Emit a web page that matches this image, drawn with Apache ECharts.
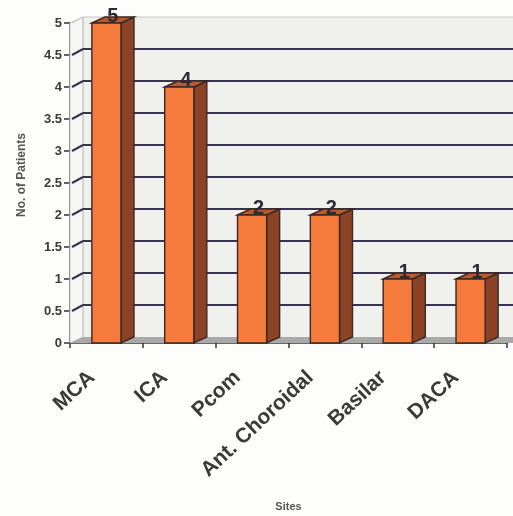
<!DOCTYPE html>
<html>
<head>
<meta charset="utf-8">
<script src="https://cdn.jsdelivr.net/npm/echarts@6/dist/echarts.min.js"></script>
<style>
  html, body { margin: 0; padding: 0; background: #fdfdfb; }
  #chart { width: 513px; height: 516px; }
</style>
</head>
<body>
<div id="chart"></div>
<script>
// Aneurysm sites and patient counts
const sites = ['MCA', 'ICA', 'Pcom', 'Ant. Choroidal', 'Basilar', 'DACA'];
const patients = [5, 4, 2, 2, 1, 1];
const yTicks = [0, 0.5, 1, 1.5, 2, 2.5, 3, 3.5, 4, 4.5, 5];

// pseudo-3D depth offset of the walls and bar bodies
const DX = 13, DY = -6;
const FONT = 'Arial, "Liberation Sans", sans-serif';

const chart = echarts.init(document.getElementById('chart'), null, { renderer: 'canvas' });

function wallItem(params, api) {
  const cs = params.coordSys;
  const left = cs.x, right = cs.x + cs.width;
  const v = api.value(1);
  const y = api.coord([0, v])[1];
  const children = [];
  if (v === 0) {
    const yTop = cs.y;
    // back wall
    children.push({ type: 'rect', shape: { x: left + DX, y: yTop + DY, width: cs.width + 40, height: cs.height },
      style: { fill: '#f0f0ed' } });
    // left side wall
    children.push({ type: 'polygon', shape: { points: [[left, yTop], [left + DX, yTop + DY], [left + DX, y + DY], [left, y]] },
      style: { fill: '#f6f6f4', stroke: '#c9c9c9', lineWidth: 1 } });
    // floor
    children.push({ type: 'polygon', shape: { points: [[left, y], [left + DX, y + DY], [right + DX + 30, y + DY], [right + 30, y]] },
      style: { fill: '#a9a9a9' } });
    children.push({ type: 'line', shape: { x1: left + DX, y1: yTop + DY, x2: left + DX, y2: y + DY },
      style: { stroke: '#c4c4c4', lineWidth: 1 } });
  } else {
    const top = v === yTicks[yTicks.length - 1];
    const col = top ? '#c8c8c8' : '#3a3350';
    children.push({ type: 'line', shape: { x1: left + 2, y1: y, x2: left + DX, y2: y + DY },
      style: { stroke: col, lineWidth: top ? 1.2 : 2 } });
    children.push({ type: 'line', shape: { x1: left + DX, y1: y + DY, x2: right + DX + 40, y2: y + DY },
      style: { stroke: col, lineWidth: top ? 1.2 : 2 } });
  }
  return { type: 'group', children };
}

function barItem(params, api) {
  const i = api.value(0), v = api.value(1);
  const topPt = api.coord([i, v]);
  const basePt = api.coord([i, 0]);
  const band = api.size([1, 0])[0];
  const w = band * 0.4;
  const x0 = topPt[0] - w / 2, x1 = topPt[0] + w / 2;
  const yt = topPt[1], yb = basePt[1];
  const stroke = '#3a2826';
  return {
    type: 'group',
    children: [
      { type: 'polygon', shape: { points: [[x1, yt], [x1 + DX, yt + DY], [x1 + DX, yb + DY], [x1, yb]] },
        style: { fill: '#8c4325', stroke, lineWidth: 1.4 } },
      { type: 'polygon', shape: { points: [[x0, yt], [x0 + DX, yt + DY], [x1 + DX, yt + DY], [x1, yt]] },
        style: { fill: '#b95b2c', stroke, lineWidth: 1.4 } },
      { type: 'rect', shape: { x: x0, y: yt, width: w, height: yb - yt },
        style: { fill: '#f47b3b', stroke, lineWidth: 1.4 } },
      { type: 'text', x: topPt[0] + DX / 2, y: yt + 3,
        style: { text: String(v), fill: '#2c2a36', font: 'bold 20px ' + FONT,
          align: 'center', verticalAlign: 'bottom' } }
    ]
  };
}

chart.setOption({
  backgroundColor: '#fdfdfb',
  animation: false,
  grid: { left: 70, right: 6, top: 23, bottom: 173, containLabel: false, outerBoundsMode: 'none' },
  xAxis: {
    type: 'category',
    data: sites,
    boundaryGap: true,
    name: 'Sites',
    nameLocation: 'middle',
    nameGap: 158,
    nameTextStyle: { color: '#555', fontWeight: 'bold', fontSize: 11, fontFamily: FONT },
    axisLine: { lineStyle: { color: '#2f3a2f', width: 1.5 } },
    axisTick: { show: true, alignWithLabel: false, length: 5, lineStyle: { color: '#333', width: 1.5 } },
    axisLabel: { interval: 0, rotate: 43, margin: 18, padding: [0, 20, 0, 0], color: '#3a3a3a',
      fontWeight: 'bold', fontSize: 21, fontFamily: FONT },
    splitLine: { show: false }
  },
  yAxis: {
    type: 'value',
    min: 0,
    max: 5,
    interval: 0.5,
    name: 'No. of Patients',
    nameLocation: 'middle',
    nameRotate: 90,
    nameGap: 42,
    nameTextStyle: { color: '#555', fontWeight: 'bold', fontSize: 12, fontFamily: FONT, padding: [0, 0, 0, 16] },
    axisLine: { show: true, lineStyle: { color: '#333', width: 1.5 } },
    axisTick: { show: true, length: 6, lineStyle: { color: '#333', width: 1.5 } },
    axisLabel: { margin: 8, color: '#3a3a3a', fontWeight: 'bold', fontSize: 13, fontFamily: FONT },
    splitLine: { show: false }
  },
  series: [
    {
      type: 'custom',
      renderItem: wallItem,
      clip: false,
      silent: true,
      z: 1,
      data: yTicks.map(v => [0, v])
    },
    {
      type: 'custom',
      renderItem: barItem,
      clip: false,
      z: 3,
      data: patients.map((v, i) => [i, v])
    }
  ]
});
</script>
</body>
</html>
